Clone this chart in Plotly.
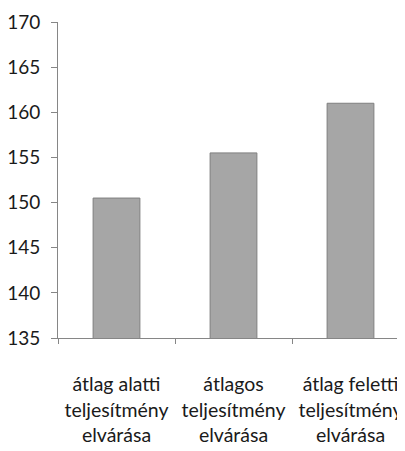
import plotly.graph_objects as go

categories = ["átlag alatti<br>teljesítmény<br>elvárása",
              "átlagos<br>teljesítmény<br>elvárása",
              "átlag feletti<br>teljesítmény<br>elvárása"]
values = [150.5, 155.5, 161.0]
y_ticks = [135, 140, 145, 150, 155, 160, 165, 170]

fig = go.Figure(go.Bar(
    x=categories, y=values, width=0.4,
    marker=dict(color="#a6a6a6", line=dict(color="#7f7f7f", width=1)),
))

fig.update_layout(
    width=405, height=451,
    margin=dict(l=50, r=4, t=14, b=121),
    paper_bgcolor="white", plot_bgcolor="white",
    font=dict(family="Lato", size=19, color="#1a1a1a"),
    showlegend=False,
)
fig.update_yaxes(range=[135, 170], tickvals=y_ticks, showgrid=False,
                 showline=True, linecolor="#868686", linewidth=1,
                 ticks="outside", ticklen=6, tickcolor="#868686",
                 ticklabelstandoff=7, zeroline=False, automargin=False)
fig.update_xaxes(showgrid=False, showline=True, linecolor="#868686", linewidth=1,
                 ticks="outside", ticklen=5, tickcolor="#868686",
                 tickson="boundaries", ticklabelstandoff=29, tickangle=0,
                 tickfont=dict(size=19.5), automargin=False)

fig.write_html("out.html")
